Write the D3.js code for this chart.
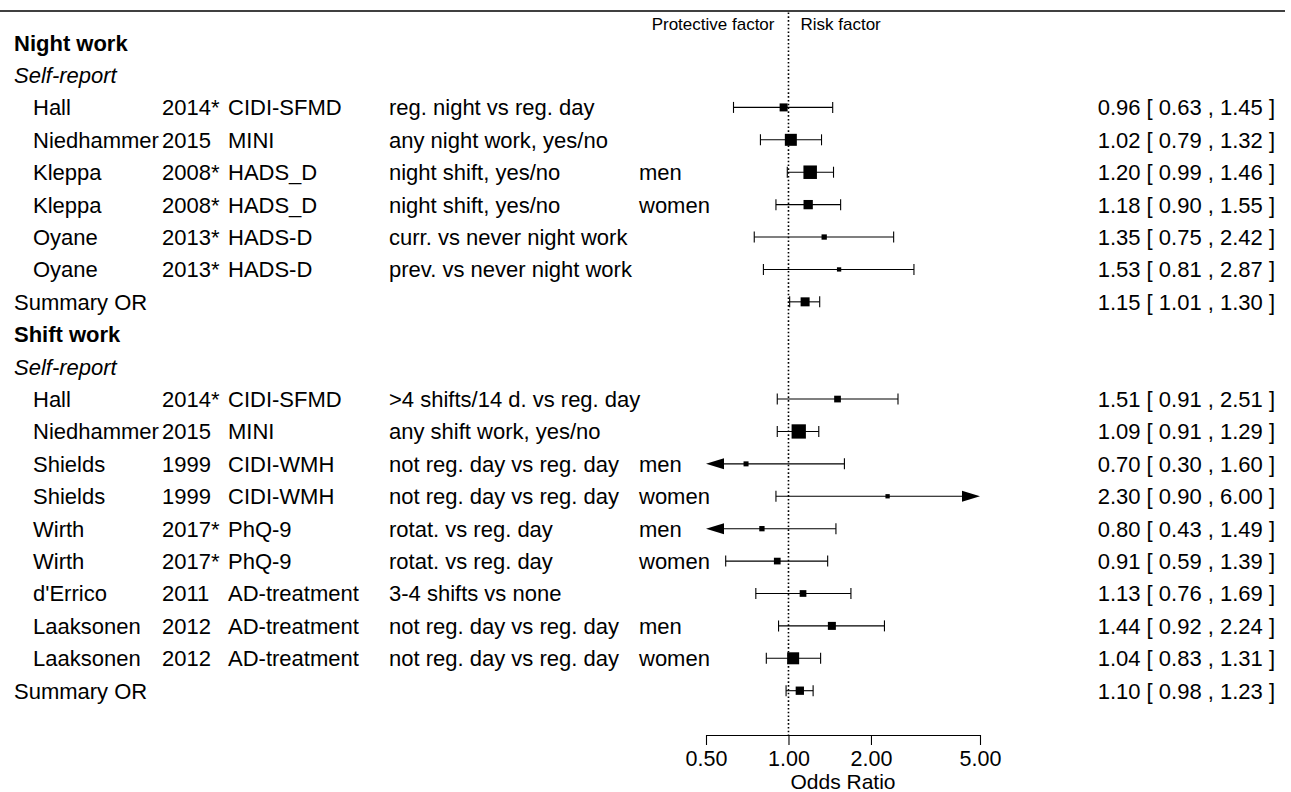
<!DOCTYPE html>
<html><head><meta charset="utf-8">
<script src="https://cdn.jsdelivr.net/npm/d3@7"></script>
<style>
body{margin:0;background:#fff}
svg{display:block}
text{font-family:"Liberation Sans",Arial,sans-serif;fill:#000}
</style>
</head><body>
<svg id="c" width="1291" height="792"></svg>
<script>
// ---------------- data ----------------
const groups = ["Night work", "Shift work"];
const subgroups = ["Self-report", "Self-report"];
const studyGroup = [0,0,0,0,0,0, 1,1,1,1,1,1,1,1,1];
const authors = ["Hall","Niedhammer","Kleppa","Kleppa","Oyane","Oyane",
  "Hall","Niedhammer","Shields","Shields","Wirth","Wirth","d'Errico","Laaksonen","Laaksonen"];
const years = ["2014*","2015","2008*","2008*","2013*","2013*",
  "2014*","2015","1999","1999","2017*","2017*","2011","2012","2012"];
const outcomes = ["CIDI-SFMD","MINI","HADS_D","HADS_D","HADS-D","HADS-D",
  "CIDI-SFMD","MINI","CIDI-WMH","CIDI-WMH","PhQ-9","PhQ-9","AD-treatment","AD-treatment","AD-treatment"];
const comparisons = ["reg. night vs reg. day","any night work, yes/no","night shift, yes/no","night shift, yes/no",
  "curr. vs never night work","prev. vs never night work",
  ">4 shifts/14 d. vs reg. day","any shift work, yes/no","not reg. day vs reg. day","not reg. day vs reg. day",
  "rotat. vs reg. day","rotat. vs reg. day","3-4 shifts vs none","not reg. day vs reg. day","not reg. day vs reg. day"];
const sexes = ["","","men","women","","", "","","men","women","men","women","","men","women"];
const oddsRatios = [0.96,1.02,1.20,1.18,1.35,1.53, 1.51,1.09,0.70,2.30,0.80,0.91,1.13,1.44,1.04];
const ciLower    = [0.63,0.79,0.99,0.90,0.75,0.81, 0.91,0.91,0.30,0.90,0.43,0.59,0.76,0.92,0.83];
const ciUpper    = [1.45,1.32,1.46,1.55,2.42,2.87, 2.51,1.29,1.60,6.00,1.49,1.39,1.69,2.24,1.31];
const weights    = [8,12,13.5,9.3,5.3,4.3, 6.7,14.3,5,4.3,5.3,6.7,6.7,8,12];
const summaryLabel = "Summary OR";
const summaryOR    = [1.15, 1.10];
const summaryLower = [1.01, 0.98];
const summaryUpper = [1.30, 1.23];
const summaryWeights = [9, 8.3];
const axisTicks = [0.5, 1, 2, 5];
const axisTitle = "Odds Ratio";
const leftLabel = "Protective factor";
const rightLabel = "Risk factor";

// ---------------- layout ----------------
const rows = [];
groups.forEach((g, gi) => {
  rows.push({type: "group", label: g});
  rows.push({type: "sub", label: subgroups[gi]});
  studyGroup.forEach((sg, i) => {
    if (sg === gi) rows.push({type: "study", author: authors[i], year: years[i], outcome: outcomes[i],
      comp: comparisons[i], sex: sexes[i], or: oddsRatios[i], lo: ciLower[i], hi: ciUpper[i], w: weights[i]});
  });
  rows.push({type: "summary", label: summaryLabel, or: summaryOR[gi], lo: summaryLower[gi], hi: summaryUpper[gi], w: summaryWeights[gi]});
});

const svg = d3.select("#c");
const FS = 22;
const y = d3.scalePoint().domain(d3.range(rows.length)).range([42.6, 690.7]);
const x = d3.scaleLog().domain([0.5, 5]).range([706, 980]);
const size = d3.scaleLinear().domain([0, d3.max(weights.concat(summaryWeights))]).range([0, 14.3]);
const fmt = d3.format(".2f");
const base = i => y(i) + FS * 0.36;

// top rule
svg.append("line").attr("x1", 0).attr("x2", 1285).attr("y1", 11).attr("y2", 11)
  .attr("stroke", "#000").attr("stroke-width", 1.5);

// header labels
svg.append("text").attr("x", x(1) - 14).attr("y", 30).attr("text-anchor", "end")
  .style("font-size", "17px").text(leftLabel);
svg.append("text").attr("x", x(1) + 12).attr("y", 30)
  .style("font-size", "17px").text(rightLabel);

// reference line
svg.append("line").attr("x1", x(1)).attr("x2", x(1)).attr("y1", 12.5).attr("y2", 735)
  .attr("stroke", "#000").attr("stroke-width", 1.6).attr("stroke-dasharray", "1.6,2.2");

// text columns
const tg = svg.append("g").style("font-size", FS + "px");
rows.forEach((r, i) => {
  if (r.type === "group") {
    tg.append("text").attr("x", 14).attr("y", base(i)).style("font-weight", "bold").text(r.label);
  } else if (r.type === "sub") {
    tg.append("text").attr("x", 14).attr("y", base(i)).style("font-style", "italic").text(r.label);
  } else if (r.type === "summary") {
    tg.append("text").attr("x", 14).attr("y", base(i)).text(r.label);
  } else {
    tg.append("text").attr("x", 33).attr("y", base(i)).text(r.author);
    tg.append("text").attr("x", 162).attr("y", base(i)).text(r.year);
    tg.append("text").attr("x", 228).attr("y", base(i)).text(r.outcome);
    tg.append("text").attr("x", 389).attr("y", base(i)).text(r.comp);
    if (r.sex) tg.append("text").attr("x", 639).attr("y", base(i)).text(r.sex);
  }
  if (r.type === "study" || r.type === "summary") {
    tg.append("text").attr("x", 1275).attr("y", base(i)).attr("text-anchor", "end")
      .text(`${fmt(r.or)} [ ${fmt(r.lo)} , ${fmt(r.hi)} ]`);
  }
});

// CI marks
const [dmin, dmax] = x.domain();
const mg = svg.append("g");
rows.forEach((r, i) => {
  if (r.type !== "study" && r.type !== "summary") return;
  const yc = y(i);
  const loClip = r.lo < dmin, hiClip = r.hi > dmax;
  const xl = x(Math.max(r.lo, dmin)), xh = x(Math.min(r.hi, dmax));
  const aw = 18, ah = 5.5;
  mg.append("line").attr("x1", loClip ? xl + aw : xl).attr("x2", hiClip ? xh - aw : xh)
    .attr("y1", yc).attr("y2", yc).attr("stroke", "#000").attr("stroke-width", 1.1);
  if (loClip) {
    mg.append("path").attr("d", `M${xl},${yc}L${xl + aw},${yc - ah}L${xl + aw},${yc + ah}Z`).attr("fill", "#000");
  } else {
    mg.append("line").attr("x1", xl).attr("x2", xl).attr("y1", yc - 5.5).attr("y2", yc + 5.5)
      .attr("stroke", "#000").attr("stroke-width", 1.1);
  }
  if (hiClip) {
    mg.append("path").attr("d", `M${xh},${yc}L${xh - aw},${yc - ah}L${xh - aw},${yc + ah}Z`).attr("fill", "#000");
  } else {
    mg.append("line").attr("x1", xh).attr("x2", xh).attr("y1", yc - 5.5).attr("y2", yc + 5.5)
      .attr("stroke", "#000").attr("stroke-width", 1.1);
  }
  const s = size(r.w);
  mg.append("rect").attr("x", x(r.or) - s / 2).attr("y", yc - s / 2).attr("width", s).attr("height", s)
    .attr("fill", "#000");
});

// axis
const axis = d3.axisBottom(x).tickValues(axisTicks).tickFormat(fmt).tickSize(10).tickSizeOuter(0).tickPadding(6);
const ag = svg.append("g").attr("transform", "translate(0,735)").call(axis);
ag.selectAll("text").style("font-size", "21.5px").style("font-family", '"Liberation Sans",Arial,sans-serif').attr("fill", "#000");
ag.selectAll("path,line").attr("stroke", "#000").attr("stroke-width", 1.1);
svg.append("text").attr("x", (x.range()[0] + x.range()[1]) / 2).attr("y", 789).attr("text-anchor", "middle")
  .style("font-size", "21px").text(axisTitle);
</script>
</body></html>
